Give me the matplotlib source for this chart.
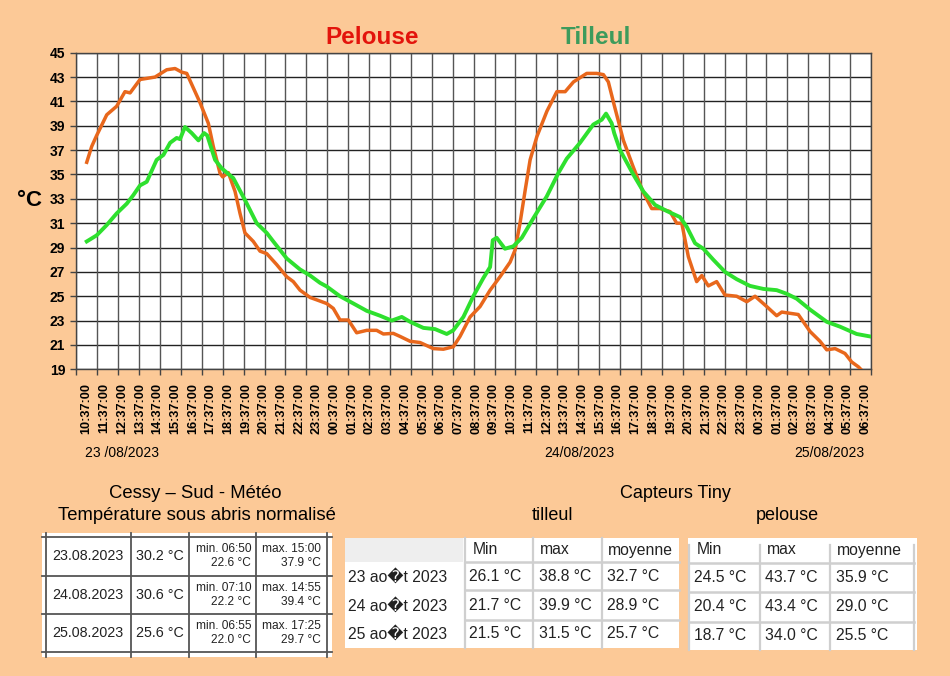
import matplotlib
matplotlib.use("Agg")
import matplotlib.pyplot as plt
from matplotlib.patches import Rectangle
from matplotlib import font_manager
import numpy as np

# ---------------- data ----------------
# hours since 23/08/2023 10:37
pelouse_h = [0.00, 0.28, 0.56, 1.13, 1.69, 2.16, 2.45, 3.01, 3.86, 4.52, 4.99, 5.37, 5.65,
             6.40, 6.87, 7.15, 7.53, 7.68, 8.00, 8.38, 8.66, 8.94, 9.41, 9.79, 10.17, 10.73,
             11.30, 11.67, 12.05, 12.43, 12.62, 13.00, 13.56, 13.93, 14.31, 14.78, 15.25,
             15.82, 16.38, 16.76, 17.32, 17.70, 18.27, 18.83, 19.58, 20.15, 20.71, 21.09,
             21.66, 22.22, 22.79, 23.35, 23.92, 24.20, 24.48, 24.77, 25.05, 25.43, 26.00,
             26.56, 27.03, 27.50, 28.25, 28.81, 29.19, 29.47, 29.80, 30.32, 30.88, 31.45,
             31.92, 32.39, 32.96, 33.33, 33.62, 33.99, 34.46, 34.75, 35.12, 35.59, 36.06,
             36.72, 37.29, 37.76, 38.42, 38.98, 39.27, 39.73, 40.20, 40.87, 41.43, 41.81,
             42.28, 42.84, 43.22, 43.60, 43.80]
pelouse_v = [36.0, 37.3, 38.2, 39.9, 40.6, 41.8, 41.7, 42.8, 43.0, 43.6, 43.7, 43.4, 43.3,
             40.9, 39.2, 37.3, 35.1, 34.8, 35.15, 33.6, 31.8, 30.2, 29.5, 28.7, 28.5, 27.6,
             26.6, 26.2, 25.5, 25.1, 24.9, 24.7, 24.4, 24.0, 23.05, 23.05, 22.0,
             22.2, 22.2, 21.9, 21.95, 21.7, 21.3, 21.2, 20.7, 20.65, 20.85, 21.7,
             23.3, 24.15, 25.5, 26.6, 27.8, 28.8, 31.0, 33.7, 36.2, 38.1, 40.2,
             41.8, 41.8, 42.6, 43.3, 43.3, 43.2, 42.6, 40.7, 37.8, 35.6, 33.5,
             32.2, 32.2, 31.95, 31.0, 31.0, 28.25, 26.2, 26.7, 25.85, 26.2, 25.1,
             25.0, 24.55, 25.0, 24.15, 23.4, 23.7, 23.6, 23.5, 22.1, 21.3, 20.6,
             20.7, 20.3, 19.6, 19.2, 18.9]

tilleul_h = [0.00, 0.56, 1.13, 1.69, 2.26, 2.63, 3.01, 3.39, 3.95, 4.33, 4.71, 5.08, 5.27,
             5.55, 5.93, 6.31, 6.63, 6.81, 7.25, 7.63, 8.28, 8.94, 9.60, 10.17, 10.54, 11.30,
             12.05, 12.62, 13.18, 13.56, 14.31, 15.07, 15.82, 16.57, 17.23, 17.80, 18.27,
             19.02, 19.68, 20.34, 20.71, 21.28, 21.84, 22.41, 22.79, 22.94, 23.16, 23.63,
             24.10, 24.58, 25.23, 25.99, 26.64, 27.12, 27.87, 28.62, 29.10, 29.34, 29.66,
             29.80, 30.13, 30.32, 30.88, 31.45, 32.11, 32.77, 33.52, 33.90, 34.37, 34.84,
             35.40, 36.06, 36.72, 37.47, 38.23, 38.98, 39.55, 40.11, 40.87, 41.81, 42.56,
             43.50, 44.25]
tilleul_v = [29.5, 30.0, 30.85, 31.8, 32.6, 33.3, 34.1, 34.4, 36.2, 36.6, 37.6, 38.0, 37.9,
             38.9, 38.4, 37.8, 38.4, 38.2, 36.2, 35.5, 34.7, 32.9, 31.0, 30.2, 29.5, 28.1,
             27.2, 26.7, 26.1, 25.8, 25.0, 24.4, 23.8, 23.4, 23.0, 23.3, 22.9,
             22.4, 22.3, 21.9, 22.2, 23.3, 25.0, 26.5, 27.4, 29.6, 29.8, 28.9,
             29.1, 29.8, 31.4, 33.2, 35.1, 36.3, 37.6, 39.1, 39.5, 40.0, 39.2,
             38.4, 37.0, 36.5, 35.0, 33.6, 32.5, 32.0, 31.5, 30.7, 29.35, 28.9,
             28.0, 27.0, 26.4, 25.85, 25.6, 25.5, 25.2, 24.8, 23.9, 22.9, 22.5,
             21.9, 21.7]

hour_labels = ["10:37:00", "11:37:00", "12:37:00", "13:37:00", "14:37:00", "15:37:00",
               "16:37:00", "17:37:00", "18:37:00", "19:37:00", "20:37:00", "21:37:00",
               "22:37:00", "23:37:00", "00:37:00", "01:37:00", "02:37:00", "03:37:00",
               "04:37:00", "05:37:00", "06:37:00", "07:37:00", "08:37:00", "09:37:00",
               "10:37:00", "11:37:00", "12:37:00", "13:37:00", "14:37:00", "15:37:00",
               "16:37:00", "17:37:00", "18:37:00", "19:37:00", "20:37:00", "21:37:00",
               "22:37:00", "23:37:00", "00:37:00", "01:37:00", "02:37:00", "03:37:00",
               "04:37:00", "05:37:00", "06:37:00"]
y_ticks = [19, 21, 23, 25, 27, 29, 31, 33, 35, 37, 39, 41, 43, 45]
date_labels = ["23 /08/2023", "24/08/2023", "25/08/2023"]

# Cessy table
cessy_dates = ["23.08.2023", "24.08.2023", "25.08.2023"]
cessy_mean = ["30.2 °C", "30.6 °C", "25.6 °C"]
cessy_min_time = ["min. 06:50", "min. 07:10", "min. 06:55"]
cessy_min = ["22.6 °C", "22.2 °C", "22.0 °C"]
cessy_max_time = ["max. 15:00", "max. 14:55", "max. 17:25"]
cessy_max = ["37.9 °C", "39.4 °C", "29.7 °C"]

# Tiny tables
tiny_dates = ["23 ao\ufffdt 2023", "24 ao\ufffdt 2023", "25 ao\ufffdt 2023"]
tiny_headers = ["Min", "max", "moyenne"]
tilleul_min = ["26.1 °C", "21.7 °C", "21.5 °C"]
tilleul_max = ["38.8 °C", "39.9 °C", "31.5 °C"]
tilleul_moy = ["32.7 °C", "28.9 °C", "25.7 °C"]
pelouse_min = ["24.5 °C", "20.4 °C", "18.7 °C"]
pelouse_max = ["43.7 °C", "43.4 °C", "34.0 °C"]
pelouse_moy = ["35.9 °C", "29.0 °C", "25.5 °C"]

# ---------------- style ----------------
BG = "#FCC997"
ORANGE = "#E8671C"
GREEN = "#2EE02E"
plt.rcParams['font.family'] = ['Liberation Sans', 'DejaVu Sans']

names = {f.name for f in font_manager.fontManager.ttflist}
if 'Liberation Sans Narrow' in names:
    TINY_FAM = ['Liberation Sans Narrow', 'DejaVu Sans']
    TINY_FS = 13
else:
    TINY_FAM = ['Liberation Sans', 'DejaVu Sans']
    TINY_FS = 11.3

W, H = 950, 676
fig = plt.figure(figsize=(W / 100, H / 100), dpi=100, facecolor=BG)
bg = fig.add_axes([0, 0, 1, 1])
bg.set_xlim(0, W)
bg.set_ylim(H, 0)
bg.axis('off')

L, R, T, B = 76.3, 871.0, 52.7, 369.3
ax = fig.add_axes([L / W, 1 - B / H, (R - L) / W, (B - T) / H])
ax.set_facecolor('white')

xmin, xmax = -0.59, 44.31
ax.plot(pelouse_h, pelouse_v, color=ORANGE, lw=2.5, zorder=3, solid_joinstyle='round')
ax.plot(tilleul_h, tilleul_v, color=GREEN, lw=2.8, zorder=4, solid_joinstyle='round')
ax.set_xlim(xmin, xmax)
ax.set_ylim(19, 45)

ax.set_yticks(y_ticks)
ax.set_yticklabels([str(v) for v in y_ticks], fontsize=10, fontweight='bold')
ax.tick_params(axis='y', direction='out', length=4, width=1, color='#444', pad=4)

grid_x = np.linspace(xmin, xmax, 39)
ax.set_xticks(grid_x)
ax.set_xticklabels([''] * len(grid_x))
ax.tick_params(axis='x', which='major', direction='out', length=4, width=1, color='#444')
ax.set_xticks(range(len(hour_labels)), minor=True)
ax.set_xticklabels(hour_labels, minor=True, rotation=90, fontsize=9.2, fontweight='bold')
ax.tick_params(axis='x', which='minor', length=0, pad=10)

for v in y_ticks:
    ax.axhline(v, color='#222', lw=1.0, zorder=1)
for gx in grid_x:
    ax.axvline(gx, color='#555', lw=1.0, zorder=1)
for s in ax.spines.values():
    s.set_color('#444')
    s.set_linewidth(1.0)

# titles
bg.text(372, 37, "Pelouse", ha='center', va='center', fontsize=17.5, fontweight='bold', color='#E3140C')
bg.text(596, 37, "Tilleul", ha='center', va='center', fontsize=17.5, fontweight='bold', color='#3D9B5C')
bg.text(30, 200, "°C", ha='center', va='center', fontsize=16, fontweight='bold')
for x, lab in zip([122, 579, 829], date_labels):
    bg.text(x, 453, lab, ha='center', va='center', fontsize=10)

# bottom titles
bg.text(195, 494, "Cessy – Sud - Météo", ha='center', va='center', fontsize=13.3)
bg.text(197, 515, "Température sous abris normalisé", ha='center', va='center', fontsize=13.3)
bg.text(675, 493, "Capteurs Tiny", ha='center', va='center', fontsize=13)
bg.text(553, 516, "tilleul", ha='center', va='center', fontsize=13)
bg.text(787, 516, "pelouse", ha='center', va='center', fontsize=13)

# Cessy table
bg.add_patch(Rectangle((42, 533), 290, 124, facecolor='white', edgecolor='none'))
for y in [536.7, 575.7, 614.0, 652.3]:
    bg.plot([42, 332], [y, y], color='#555', lw=1.3)
for x in [46, 130.7, 189.3, 256, 327.3]:
    bg.plot([x, x], [533, 657], color='#555', lw=1.3)
rows_c = [556.2, 594.8, 633.2]
TXT = '#222'
for i, yc in enumerate(rows_c):
    bg.text(88.3, yc, cessy_dates[i], ha='center', va='center', fontsize=10.3, color=TXT)
    bg.text(160, yc, cessy_mean[i], ha='center', va='center', fontsize=10.3, color=TXT)
    bg.text(251, yc - 6.8, cessy_min_time[i], ha='right', va='center', fontsize=8.6, color=TXT)
    bg.text(251, yc + 6.8, cessy_min[i], ha='right', va='center', fontsize=8.6, color=TXT)
    bg.text(321, yc - 6.8, cessy_max_time[i], ha='right', va='center', fontsize=8.6, color=TXT)
    bg.text(321, yc + 6.8, cessy_max[i], ha='right', va='center', fontsize=8.6, color=TXT)

SEP = '#CFCFCF'
# Tilleul tiny table
bg.add_patch(Rectangle((345, 538.3), 334, 110, facecolor='white', edgecolor='none'))
bg.add_patch(Rectangle((345, 538.3), 118.3, 23.4, facecolor='#EEEEEE', edgecolor='none'))
for x in [465, 533.3, 601.7]:
    bg.plot([x, x], [538.3, 648.3], color=SEP, lw=1.6)
for y in [561.7, 590, 620]:
    bg.plot([465, 679], [y, y], color=SEP, lw=1.8)
for x, h in zip([473, 540, 608], tiny_headers):
    bg.text(x, 550, h, ha='left', va='center', fontsize=TINY_FS, family=TINY_FAM, color=TXT)
rows_t = [576.7, 606, 634]
for i, yc in enumerate(rows_t):
    bg.text(348, yc, tiny_dates[i], ha='left', va='center', fontsize=TINY_FS, family=TINY_FAM, color=TXT)
    bg.text(469, yc, tilleul_min[i], ha='left', va='center', fontsize=TINY_FS, family=TINY_FAM, color=TXT)
    bg.text(539, yc, tilleul_max[i], ha='left', va='center', fontsize=TINY_FS, family=TINY_FAM, color=TXT)
    bg.text(606.7, yc, tilleul_moy[i], ha='left', va='center', fontsize=TINY_FS, family=TINY_FAM, color=TXT)

# Pelouse tiny table
bg.add_patch(Rectangle((688, 538.3), 229, 111.7, facecolor='white', edgecolor='none'))
for x in [689, 760, 830, 914]:
    bg.plot([x, x], [545, 650], color=SEP, lw=1.6)
for y in [563.3, 591.7, 621.7]:
    bg.plot([689, 914], [y, y], color=SEP, lw=1.8)
for x, h in zip([696.7, 766.7, 837.3], tiny_headers):
    bg.text(x, 550, h, ha='left', va='center', fontsize=TINY_FS, family=TINY_FAM, color=TXT)
rows_p = [577.3, 606.7, 635]
for i, yc in enumerate(rows_p):
    bg.text(694, yc, pelouse_min[i], ha='left', va='center', fontsize=TINY_FS, family=TINY_FAM, color=TXT)
    bg.text(765, yc, pelouse_max[i], ha='left', va='center', fontsize=TINY_FS, family=TINY_FAM, color=TXT)
    bg.text(836, yc, pelouse_moy[i], ha='left', va='center', fontsize=TINY_FS, family=TINY_FAM, color=TXT)

fig.savefig("out.png", dpi=100, facecolor=BG)
